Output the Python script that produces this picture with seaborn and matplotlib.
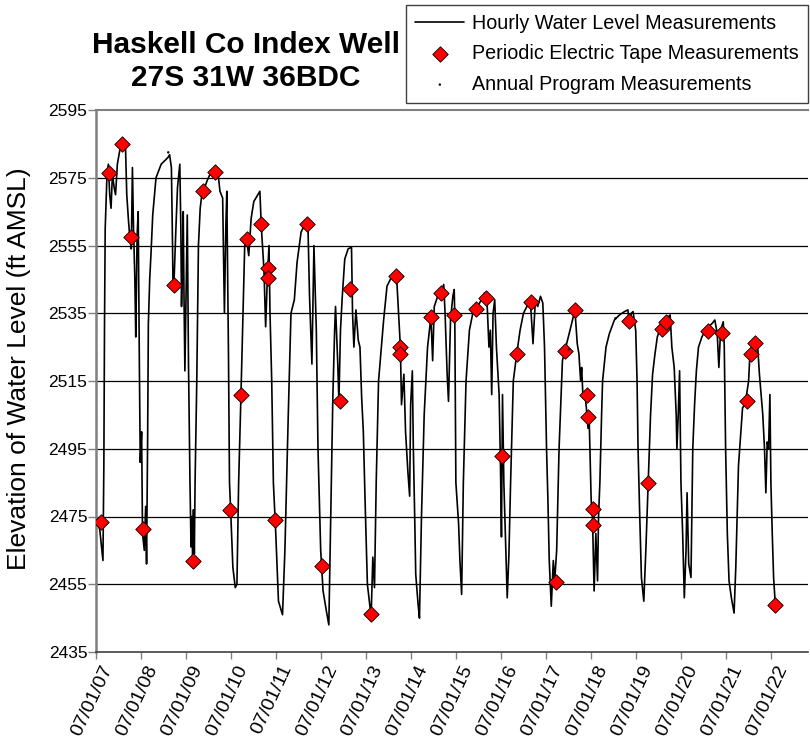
import numpy as np
import pandas as pd
import matplotlib
matplotlib.use("Agg")
import matplotlib.pyplot as plt
import matplotlib.dates as mdates
from matplotlib.transforms import ScaledTranslation
import seaborn as sns

# Hourly transducer record, kept at its turning points (decimal year, ft AMSL)
hourly_year = [
    2007.52, 2007.58, 2007.62, 2007.65, 2007.67, 2007.685, 2007.70, 2007.74, 2007.77, 2007.80,
    2007.83, 2007.86, 2007.90, 2007.93, 2007.97, 2008.03, 2008.08, 2008.15, 2008.18, 2008.22,
    2008.25, 2008.28, 2008.306, 2008.33, 2008.36, 2008.38, 2008.41, 2008.434, 2008.46, 2008.48,
    2008.51, 2008.53, 2008.57, 2008.60, 2008.62, 2008.645, 2008.66, 2008.69, 2008.72, 2008.757,
    2008.83, 2008.945, 2009.095, 2009.13, 2009.17, 2009.19, 2009.207, 2009.23, 2009.27, 2009.305,
    2009.357, 2009.38, 2009.395, 2009.415, 2009.433, 2009.45, 2009.47, 2009.50, 2009.523, 2009.55,
    2009.583, 2009.606, 2009.625, 2009.643, 2009.66, 2009.68, 2009.696, 2009.734, 2009.771, 2009.81,
    2009.846, 2009.88, 2009.96, 2010.06, 2010.139, 2010.21, 2010.25, 2010.31, 2010.349, 2010.38,
    2010.402, 2010.439, 2010.462, 2010.49, 2010.537, 2010.59, 2010.627, 2010.665, 2010.717, 2010.762,
    2010.80, 2010.85, 2010.89, 2010.943, 2011.003, 2011.138, 2011.168, 2011.228, 2011.266, 2011.303,
    2011.341, 2011.363, 2011.401, 2011.438, 2011.491, 2011.551, 2011.641, 2011.694, 2011.769, 2011.829,
    2011.904, 2011.964, 2012.055, 2012.167, 2012.205, 2012.242, 2012.295, 2012.34, 2012.393, 2012.43,
    2012.49, 2012.543, 2012.618, 2012.671, 2012.70, 2012.76, 2012.80, 2012.82, 2012.87, 2012.895,
    2012.93, 2012.97, 2013.023, 2013.098, 2013.173, 2013.196, 2013.226, 2013.271, 2013.324, 2013.361,
    2013.399, 2013.436, 2013.474, 2013.526, 2013.587, 2013.61, 2013.647, 2013.684, 2013.722, 2013.774,
    2013.85, 2013.887, 2013.962, 2014.075, 2014.173, 2014.26, 2014.285, 2014.338, 2014.375, 2014.428,
    2014.466, 2014.488, 2014.526, 2014.548, 2014.578, 2014.601, 2014.654, 2014.684, 2014.729, 2014.789,
    2014.864, 2014.939, 2014.977, 2015.014, 2015.089, 2015.164, 2015.224, 2015.254, 2015.30, 2015.33,
    2015.375, 2015.427, 2015.457, 2015.47, 2015.494, 2015.554, 2015.584, 2015.622, 2015.66, 2015.72,
    2015.795, 2015.87, 2015.945, 2016.058, 2016.133, 2016.185, 2016.23, 2016.261, 2016.291, 2016.321,
    2016.358, 2016.396, 2016.456, 2016.486, 2016.508, 2016.531, 2016.561, 2016.606, 2016.636, 2016.674,
    2016.711, 2016.771, 2016.847, 2016.922, 2016.997, 2017.072, 2017.147, 2017.207, 2017.26, 2017.312,
    2017.373, 2017.425, 2017.463, 2017.508, 2017.538, 2017.568, 2017.613, 2017.658, 2017.688, 2017.733,
    2017.786, 2017.861, 2017.936, 2018.049, 2018.139, 2018.191, 2018.228, 2018.266, 2018.289, 2018.319,
    2018.364, 2018.394, 2018.431, 2018.454, 2018.50, 2018.529, 2018.566, 2018.604, 2018.642, 2018.664,
    2018.694, 2018.732, 2018.754, 2018.83, 2018.905, 2019.017, 2019.13, 2019.243, 2019.318, 2019.355,
    2019.393, 2019.431, 2019.491, 2019.521, 2019.543, 2019.581, 2019.618, 2019.671, 2019.716, 2019.769,
    2019.821, 2019.866, 2019.919, 2019.971, 2020.047, 2020.144, 2020.257, 2020.295, 2020.347, 2020.392,
    2020.407, 2020.437, 2020.467, 2020.497, 2020.535, 2020.572, 2020.61, 2020.633, 2020.67, 2020.72,
    2020.76, 2020.80, 2020.84, 2020.887, 2020.963, 2021.038, 2021.113, 2021.188, 2021.248, 2021.301,
    2021.338, 2021.376, 2021.436, 2021.458, 2021.488, 2021.526, 2021.564, 2021.616, 2021.676, 2021.714,
    2021.774, 2021.827, 2021.864, 2021.902, 2021.954, 2021.999, 2022.029, 2022.075, 2022.127, 2022.165,
    2022.202, 2022.24, 2022.277, 2022.315, 2022.353, 2022.383, 2022.413, 2022.443, 2022.473, 2022.495,
    2022.525, 2022.555, 2022.593,
]
hourly_level = [
    2474, 2471, 2466, 2462, 2490, 2532, 2560, 2576, 2579, 2570,
    2566, 2576, 2572, 2570, 2579, 2583.5, 2585.3, 2585, 2570, 2562,
    2557, 2554, 2578, 2560, 2545, 2528, 2558, 2565, 2520, 2491,
    2500, 2470, 2465, 2478, 2461, 2500, 2532, 2545, 2553, 2564,
    2575, 2579, 2581, 2581.8, 2578, 2560, 2542, 2545, 2560, 2572,
    2579, 2560, 2537, 2550, 2565, 2540, 2518, 2545, 2564, 2520,
    2485, 2466, 2475, 2462, 2477, 2464, 2485, 2515, 2555, 2566,
    2570, 2571, 2574, 2577, 2577.5, 2576, 2571, 2569, 2535, 2560,
    2571, 2523, 2485, 2476, 2460, 2454, 2455, 2485, 2511, 2535,
    2555, 2556, 2552, 2563, 2568, 2571, 2561, 2548, 2531, 2545,
    2555, 2535, 2515, 2485, 2470, 2450, 2446, 2465, 2505, 2535,
    2539, 2550, 2559, 2562, 2562, 2540, 2520, 2555, 2530, 2495,
    2465, 2453, 2447, 2443, 2465, 2510, 2530, 2537, 2520, 2509,
    2530, 2540, 2551, 2554, 2554.5, 2535, 2525, 2536, 2527, 2525,
    2510, 2500, 2480, 2455, 2448, 2446, 2463, 2454, 2485, 2515,
    2527, 2533, 2543, 2546, 2546.5, 2525, 2508, 2517, 2500, 2488,
    2481, 2508, 2518, 2495, 2475, 2458, 2449, 2445, 2475, 2505,
    2525, 2534, 2521, 2537, 2540, 2541, 2543.5, 2535, 2517, 2509,
    2533, 2540, 2542, 2534, 2485, 2473, 2462, 2452, 2485, 2515,
    2530, 2535, 2536, 2539, 2541, 2539, 2525, 2530, 2511, 2535,
    2539, 2525, 2511, 2490, 2469, 2511, 2485, 2465, 2451, 2464,
    2485, 2515, 2523, 2530, 2535, 2537, 2539, 2526, 2539, 2537,
    2540, 2538, 2525, 2495, 2480, 2462, 2448.5, 2462, 2456, 2465,
    2495, 2521, 2525, 2531, 2536, 2526, 2523, 2515, 2519, 2510,
    2511, 2507, 2501, 2505, 2480, 2475, 2453, 2470, 2456, 2475,
    2485, 2505, 2515, 2525, 2529, 2533, 2534.5, 2535.5, 2536, 2531,
    2535, 2535.5, 2530, 2515, 2495, 2475, 2457, 2450, 2465, 2485,
    2505, 2517, 2523, 2528, 2531, 2533, 2534.5, 2525, 2519, 2505,
    2495, 2505, 2518, 2485, 2470, 2451, 2465, 2482, 2461, 2457,
    2495, 2508, 2518, 2525, 2528, 2530, 2531, 2532, 2533, 2529,
    2519, 2530, 2532.5, 2525, 2495, 2470, 2456, 2451, 2446.5, 2460,
    2490, 2500, 2507, 2508, 2511, 2515, 2523, 2525, 2527, 2527.5,
    2525, 2517, 2511, 2505, 2495, 2482, 2497, 2495, 2511, 2485,
    2470, 2457, 2449,
]

# Periodic electric tape measurements
tape_year = [
    2007.606, 2007.78, 2008.065, 2008.27, 2008.53, 2009.22, 2009.64, 2009.88, 2010.13, 2010.48,
    2010.72, 2010.84, 2011.17, 2011.32, 2011.32, 2011.48, 2012.18, 2012.51, 2012.92, 2013.15,
    2013.60, 2014.17, 2014.26, 2014.26, 2014.94, 2015.16, 2015.46, 2015.94, 2016.17, 2016.51,
    2016.85, 2017.17, 2017.71, 2017.91, 2018.14, 2018.41, 2018.43, 2018.53, 2018.53, 2019.34,
    2019.77, 2020.07, 2020.16, 2021.10, 2021.41, 2021.96, 2022.05, 2022.15, 2022.59,
]
tape_level = [
    2473.3, 2576.5, 2585, 2557.5, 2471.3, 2543.3, 2462, 2571, 2576.8, 2476.8,
    2510.8, 2556.8, 2561.3, 2548.3, 2545.5, 2474, 2561.3, 2460.3, 2509, 2542.3,
    2446.1, 2546, 2525, 2523, 2534, 2541, 2534.5, 2536.3, 2539.5, 2492.8,
    2523, 2538.3, 2455.8, 2524, 2536, 2510.8, 2504.5, 2477.1, 2472.5, 2532.8,
    2485, 2530.3, 2532.5, 2529.8, 2529.3, 2509, 2523, 2526.3, 2449,
]

# Annual program measurements (tiny dots)
annual_year = [2009.10, 2018.00, 2019.04]
annual_level = [2582.5, 2524.3, 2533.5]

y_ticks = list(range(2435, 2596, 20))
x_tick_years = list(range(2007, 2023))


def to_date(years):
    years = np.asarray(years, dtype=float)
    whole = np.floor(years).astype(int)
    start = pd.to_datetime([f"{y}-01-01" for y in whole])
    return start + pd.to_timedelta((years - whole) * 365.25, unit="D")


hourly = pd.DataFrame({"date": to_date(hourly_year), "level": hourly_level})
tape = pd.DataFrame({"date": to_date(tape_year), "level": tape_level})
annual = pd.DataFrame({"date": to_date(annual_year), "level": annual_level})

sns.set_style("white")
plt.rcParams["font.family"] = ["Liberation Sans", "DejaVu Sans"]
plt.rcParams["text.color"] = "black"
plt.rcParams["xtick.labelcolor"] = "black"
plt.rcParams["ytick.labelcolor"] = "black"

fig = plt.figure(figsize=(8.1, 7.46), dpi=100)
ax = fig.add_axes([96 / 810, 1 - 652 / 746, (808 - 96) / 810, (652 - 110) / 746])

sns.lineplot(data=hourly, x="date", y="level", sort=False, estimator=None,
             color="black", linewidth=1.2, ax=ax, label="Hourly Water Level Measurements")
sns.scatterplot(data=tape, x="date", y="level", marker="D", s=62, color="red",
                edgecolor="black", linewidth=0.6, ax=ax, zorder=3,
                label="Periodic Electric Tape Measurements")
sns.scatterplot(data=annual, x="date", y="level", marker="o", s=3, color="black",
                edgecolor="none", ax=ax, zorder=4, label="Annual Program Measurements")

ax.set_ylim(2435, 2595)
ax.set_xlim(pd.Timestamp("2007-07-01"), pd.Timestamp("2023-04-28"))
ax.set_yticks(y_ticks)
ax.set_yticklabels([str(v) for v in y_ticks], fontsize=12.5)
ax.set_xticks([pd.Timestamp(f"{y}-07-01") for y in x_tick_years])
ax.xaxis.set_major_formatter(mdates.DateFormatter("%m/%d/%y"))
ax.tick_params(axis="y", direction="out", length=5.8, width=1, color="#808080", pad=0.5, left=True)
ax.tick_params(axis="x", direction="out", length=5, width=1, color="#808080", pad=5, bottom=True)
shift = ScaledTranslation(0.12, 0, fig.dpi_scale_trans)
for lab in ax.get_xticklabels():
    lab.set_rotation(65)
    lab.set_ha("right")
    lab.set_va("center")
    lab.set_rotation_mode("anchor")
    lab.set_fontsize(14)
    lab.set_transform(lab.get_transform() + shift)
ax.set_xlabel("")
ax.set_ylabel("")

for v in y_ticks[1:-1]:
    ax.axhline(v, color="black", linewidth=0.9, zorder=0)

ax.spines["left"].set_color("#808080")
ax.spines["left"].set_linewidth(1.8)
ax.spines["top"].set_color("#808080")
ax.spines["top"].set_linewidth(1.5)
ax.spines["bottom"].set_color("#404040")
ax.spines["bottom"].set_linewidth(1.2)
ax.spines["right"].set_visible(False)

handles, labels = ax.get_legend_handles_labels()
ax.get_legend().remove()
leg = fig.legend(handles, labels, loc="upper right", bbox_to_anchor=(808 / 810, 1 - 5 / 746),
                 frameon=True, fancybox=False, framealpha=1, edgecolor="#404040",
                 fontsize=14.2, handlelength=2.5, handletextpad=0.4, labelspacing=0.58,
                 borderpad=0.45, borderaxespad=0)
leg.get_frame().set_linewidth(1.0)

fig.text(246 / 810, 1 - 45 / 746, "Haskell Co Index Well", ha="center", va="center",
         fontsize=21.5, fontweight="bold")
fig.text(246 / 810, 1 - 78 / 746, "27S 31W 36BDC", ha="center", va="center",
         fontsize=21.5, fontweight="bold")
fig.text(19 / 810, 1 - 369 / 746, "Elevation of Water Level (ft AMSL)", rotation=90,
         ha="center", va="center", fontsize=19)

fig.savefig("out.png", dpi=100)
